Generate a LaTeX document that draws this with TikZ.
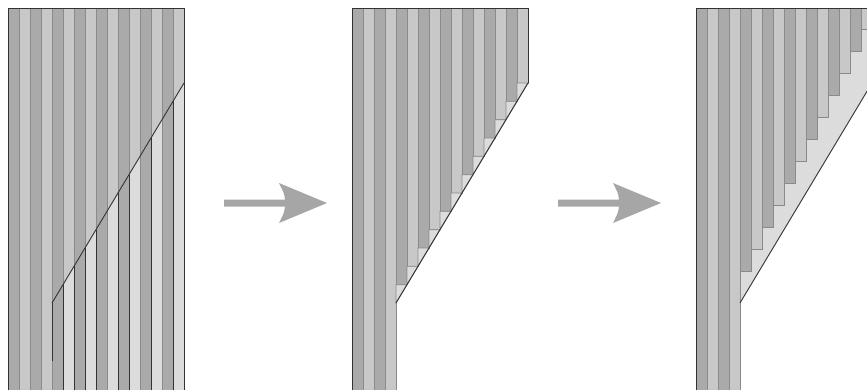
\documentclass[tikz,border=0pt]{standalone}
\usetikzlibrary{calc}
\definecolor{stripdark}{HTML}{AAAAAA}
\definecolor{striplight}{HTML}{C8C8C8}
\definecolor{stripcut}{HTML}{DCDCDC}
\definecolor{edgegray}{HTML}{8A8A8A}
\definecolor{outline}{HTML}{333333}
\definecolor{arrowgray}{HTML}{A6A6A6}
\begin{document}
\begin{tikzpicture}[x=1pt,y=-1pt,
  stripedge/.style={draw=edgegray,line width=0.8pt},
  border/.style={draw=outline,line width=1pt},
  cutline/.style={draw=outline,line width=0.9pt},
  blockarrow/.style={fill=arrowgray}]
\clip (0,0) rectangle (867,389);
\fill[white] (0,0) rectangle (867,389);

% ---------- first panel: full strips with the cut line ----------
\foreach \k in {1,...,16}{
  \ifodd\k \def\c{stripdark}\else\def\c{striplight}\fi
  \filldraw[stripedge,fill=\c] ({8+11*(\k-1)},8) rectangle ({8+11*\k},400);
}
\begin{scope}
  \clip (52,303) -- (184,83) -- (184,400) -- (52,400) -- cycle;
  \foreach \k in {1,...,16}{
    \ifodd\k \def\c{stripdark}\else\def\c{stripcut}\fi
    \filldraw[stripedge,fill=\c] ({8+11*(\k-1)},8) rectangle ({8+11*\k},400);
  }
  \foreach \x in {63,74,85,96,118,129,151,173}{
    \draw[cutline] (\x,{303-(\x-52)*5/3}) -- (\x,400);
  }
\end{scope}
\draw[cutline] (52,303) -- (52,361);
\draw[border] (8,400) -- (8,8) -- (184,8) -- (184,400);
\draw[cutline] (52,303) -- (184,83);

% ---------- second panel: strips cut along the line ----------
\foreach \k in {1,...,4}{
  \ifodd\k \def\c{stripdark}\else\def\c{striplight}\fi
  \filldraw[stripedge,fill=\c] ({352+11*(\k-1)},8) rectangle ({352+11*\k},400);
}
\foreach \k in {5,...,16}{
  \ifodd\k \def\c{stripdark}\else\def\c{striplight}\fi
  \pgfmathsetmacro\yr{303-(11*\k-44)*5/3}
  \pgfmathsetmacro\yl{\yr+55/3}
  \filldraw[stripedge,fill=\c] ({352+11*(\k-1)},8) rectangle ({352+11*\k},\yr);
  \filldraw[stripedge,fill=stripcut] ({352+11*(\k-1)},\yr) -- ({352+11*\k},\yr) -- ({352+11*(\k-1)},\yl) -- cycle;
}
\draw[stripedge] (396,303) -- (396,400);
\draw[border] (352,400) -- (352,8) -- (528,8) -- (528,83);
\draw[cutline] (528,83) -- (396,303);

% ---------- third panel: shortened strips over the cut piece ----------
\fill[stripcut] (740,303) -- (740,8) -- (872,8) -- (872,83) -- cycle;
\foreach \k in {1,...,4}{
  \ifodd\k \def\c{stripdark}\else\def\c{striplight}\fi
  \filldraw[stripedge,fill=\c] ({696+11*(\k-1)},8) rectangle ({696+11*\k},400);
}
\foreach \k in {5,...,16}{
  \ifodd\k \def\c{stripdark}\else\def\c{striplight}\fi
  \filldraw[stripedge,fill=\c] ({696+11*(\k-1)},8) rectangle ({696+11*\k},{271-22*(\k-5)});
}
\draw[stripedge] (740,303) -- (740,400);
\draw[border] (696,400) -- (696,8) -- (872,8);
\draw[cutline] (740,303) -- (872,83);

% ---------- arrows between the panels ----------
\coordinate (tailA) at (224,203);
\coordinate (tipA)  at (327,203);
\coordinate (tailB) at (558,203);
\coordinate (tipB)  at (661,203);
\foreach \t/\p in {tailA/tipA,tailB/tipB}{
  \fill[blockarrow] (\p) -- ($(\p)+(-48,-20)$)
    .. controls ($(\p)+(-43,-10)$) .. ($(\p)+(-42,-3.5)$)
    -- ($(\t)+(0,-3.5)$) -- ($(\t)+(0,3.5)$) -- ($(\p)+(-42,3.5)$)
    .. controls ($(\p)+(-43,10)$) .. ($(\p)+(-48,20)$) -- cycle;
}
\end{tikzpicture}
\end{document}
